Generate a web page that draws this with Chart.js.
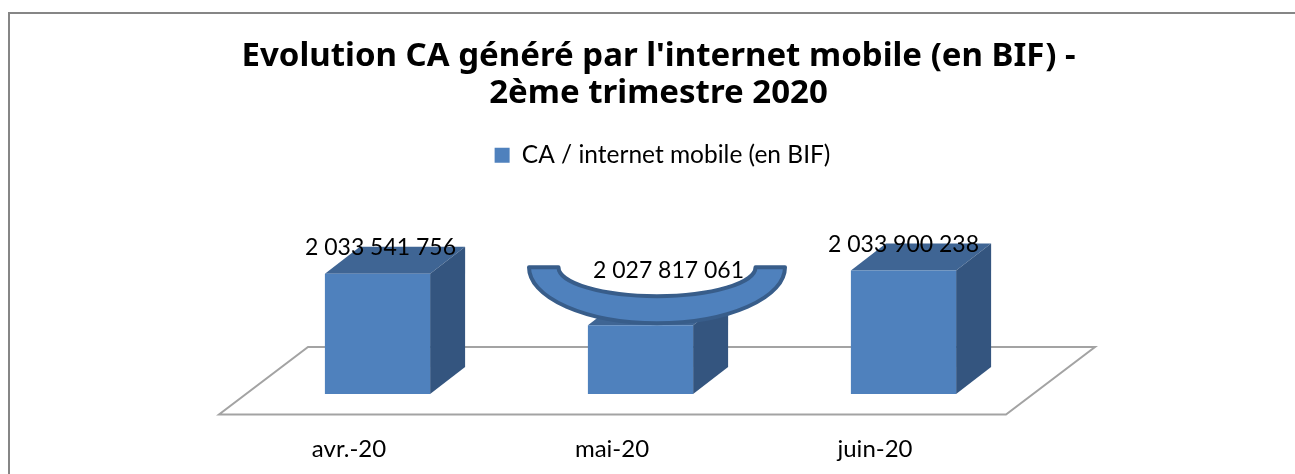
<!DOCTYPE html>
<html>
<head>
<meta charset="utf-8">
<title>Evolution CA internet mobile</title>
<script src="https://cdn.jsdelivr.net/npm/chart.js@4"></script>
<style>
    html, body { margin: 0; padding: 0; background: #fff; overflow: hidden; }
    #wrap { position: relative; width: 1295px; height: 474px; }
    #frame { position: absolute; left: 8px; top: 12px; right: 0; bottom: 0; border-left: 2px solid #868686; border-top: 2px solid #868686; }
    canvas { position: absolute; left: 0; top: 0; }
</style>
</head>
<body>
<div id="wrap">
    <div id="frame"></div>
    <canvas id="myChart" width="1295" height="474"></canvas>
</div>
<script>
const categories = ['avr.-20', 'mai-20', 'juin-20']
const caInternet = [2033541756, 2027817061, 2033900238]
const seriesName = 'CA / internet mobile (en BIF)'
const titleLines = ["Evolution CA généré par l'internet mobile (en BIF) -", '2ème trimestre 2020']

// axis is cut off low down in the original, bars only show the difference
const axisMin = 2020150000
const axisMax = 2044270000

const blue = '#4f81bd'
const blueTop = '#3f6594'
const blueSide = '#34557f'
const blueEdge = '#385d8a'
const floorColor = '#a3a3a3'
const bodyFont = 'Lato'

const depthX = 35
const depthY = 27

function formatValue(v) {
    return String(v).replace(/\B(?=(\d{3})+$)/g, ' ')
}

// floor under the bars, drawn from the plot area
const floorPlugin = {
    id: 'floor',
    beforeDatasetsDraw (chart) {
        const ctx = chart.ctx
        const x = chart.scales.x
        const bottom = chart.scales.y.bottom
        ctx.save()
        ctx.beginPath()
        ctx.moveTo(x.left - 27, bottom + 20.5)
        ctx.lineTo(x.right - 29, bottom + 20.5)
        ctx.lineTo(x.right + 60, bottom - 47)
        ctx.lineTo(x.left + 62, bottom - 47)
        ctx.closePath()
        ctx.fillStyle = '#fff'
        ctx.fill()
        ctx.strokeStyle = floorColor
        ctx.lineWidth = 2
        ctx.stroke()
        ctx.restore()
    }
}

// top and side faces of each bar
const depthPlugin = {
    id: 'depth',
    beforeDatasetsDraw (chart) {
        const ctx = chart.ctx
        const bottom = chart.scales.y.bottom
        chart.getDatasetMeta(0).data.forEach(bar => {
            const l = bar.x - bar.width / 2
            const r = bar.x + bar.width / 2
            ctx.fillStyle = blueTop
            ctx.beginPath()
            ctx.moveTo(l, bar.y)
            ctx.lineTo(l + depthX, bar.y - depthY)
            ctx.lineTo(r + depthX, bar.y - depthY)
            ctx.lineTo(r, bar.y)
            ctx.closePath()
            ctx.fill()
            ctx.fillStyle = blueSide
            ctx.beginPath()
            ctx.moveTo(r, bar.y)
            ctx.lineTo(r + depthX, bar.y - depthY)
            ctx.lineTo(r + depthX, bottom - depthY)
            ctx.lineTo(r, bottom)
            ctx.closePath()
            ctx.fill()
        })
    }
}

// dish shape sitting on the second bar, then the value labels over everything
const labelPlugin = {
    id: 'valueLabels',
    afterDatasetsDraw (chart) {
        const ctx = chart.ctx
        const bars = chart.getDatasetMeta(0).data

        const dish = bars[1]
        const cx = dish.x + 16.5
        const cy = dish.y - 58
        ctx.save()
        ctx.beginPath()
        ctx.moveTo(cx - 128, cy)
        ctx.ellipse(cx, cy, 128, 56, 0, Math.PI, 0, true)
        ctx.lineTo(cx + 98.5, cy)
        ctx.ellipse(cx, cy, 98.5, 29, 0, 0, Math.PI, false)
        ctx.closePath()
        ctx.fillStyle = blue
        ctx.fill()
        ctx.strokeStyle = blueEdge
        ctx.lineWidth = 4
        ctx.lineJoin = 'round'
        ctx.stroke()

        const shifts = [[3, -26], [28, -55], [0, -26]]
        ctx.font = '23px ' + bodyFont
        ctx.fillStyle = '#000'
        ctx.textAlign = 'center'
        ctx.textBaseline = 'middle'
        bars.forEach((bar, i) => {
            ctx.fillText(formatValue(caInternet[i]), bar.x + shifts[i][0], bar.y + shifts[i][1])
        })
        ctx.restore()
    }
}

// legend sits a little right of the title in the original
const shiftLegend = {
    id: 'shiftLegend',
    afterLayout (chart) {
        chart.legend.left += 4
        chart.legend.right += 4
    }
}

const myChart = new Chart(document.getElementById('myChart'), {
    type: 'bar',
    data: {
        labels: categories,
        datasets: [{
            label: seriesName,
            data: caInternet,
            backgroundColor: blue,
            categoryPercentage: 1,
            barPercentage: 0.4
        }]
    },
    options: {
        responsive: false,
        animation: false,
        layout: { padding: { left: 22 } },
        plugins: {
            tooltip: { enabled: false },
            title: {
                display: true,
                text: titleLines,
                color: '#000',
                font: { family: 'Noto Sans', size: 33, weight: 'bold', lineHeight: 1.12 },
                padding: { top: 38, bottom: 21 }
            },
            legend: {
                display: true,
                labels: {
                    boxWidth: 15,
                    boxHeight: 15,
                    padding: 10,
                    color: '#000',
                    font: { family: bodyFont, size: 24.5 }
                }
            }
        },
        scales: {
            x: {
                grid: { display: false },
                border: { display: false },
                ticks: {
                    color: '#000',
                    padding: 33,
                    labelOffset: -28.5,
                    maxRotation: 0,
                    font: { family: bodyFont, size: 24 }
                },
                afterFit (scale) { scale.height = 80 }
            },
            y: {
                min: axisMin,
                max: axisMax,
                grid: { display: false },
                border: { display: false },
                ticks: { display: false },
                afterFit (scale) { scale.width = 224 }
            },
            // empty axis, only keeps the plot clear of the right side
            yRight: {
                position: 'right',
                grid: { display: false },
                border: { display: false },
                ticks: { display: false },
                afterFit (scale) { scale.width = 260 }
            }
        }
    },
    plugins: [floorPlugin, depthPlugin, labelPlugin, shiftLegend]
})
</script>
</body>
</html>
